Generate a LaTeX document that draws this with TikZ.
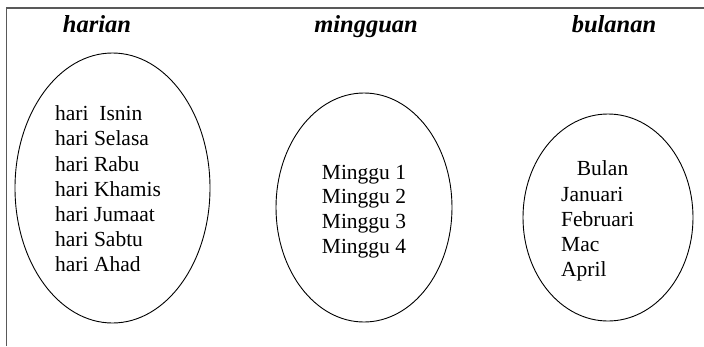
\documentclass[tikz,border=0pt]{standalone}
\usepackage{fontspec}
\setmainfont{Liberation Serif}
\usepackage{tikz}

\tikzset{
  tajuk/.style={anchor=base, inner sep=0pt, font=\fontsize{24.5}{28}\selectfont\bfseries\itshape},
  isi/.style={anchor=base west, inner sep=0pt, font=\fontsize{21.5}{25}\selectfont},
  bingkai/.style={draw=black!65, line width=1.5pt},
  bulatan/.style={draw=black, line width=0.9pt}
}

\begin{document}
\begin{tikzpicture}[x=1pt,y=-1pt]
\useasboundingbox (0,0) rectangle (704,346);

\draw[bingkai] (6.5,346) -- (6.5,8) -- (704,8) ;

\draw[bulatan] (112.5,188) ellipse (97.5 and 135) ;
\node[tajuk] (harian) at (97,32) {harian} ;
\node[isi] (isnin) at (55,120.7) {hari\ \ Isnin} ;
\node[isi] (selasa) at (55,145.9) {hari Selasa} ;
\node[isi] (rabu) at (55,171.1) {hari Rabu} ;
\node[isi] (khamis) at (55,196.3) {hari Khamis} ;
\node[isi] (jumaat) at (55,221.5) {hari Jumaat} ;
\node[isi] (sabtu) at (55,246.7) {hari Sabtu} ;
\node[isi] (ahad) at (55,271.9) {hari Ahad} ;

\draw[bulatan] (364,207.5) ellipse (88 and 114.5) ;
\node[tajuk] (mingguan) at (366,32) {mingguan} ;
\node[isi] (minggu1) at (321.7,179) {Minggu 1} ;
\node[isi] (minggu2) at (321.7,203.7) {Minggu 2} ;
\node[isi] (minggu3) at (321.7,228.3) {Minggu 3} ;
\node[isi] (minggu4) at (321.7,253) {Minggu 4} ;

\draw[bulatan] (608,217.5) ellipse (85 and 103.5) ;
\node[tajuk] (bulanan) at (614,32) {bulanan} ;
\node[isi] (bulan) at (576.7,175.7) {Bulan} ;
\node[isi] (januari) at (561,201) {Januari} ;
\node[isi] (februari) at (561,226.2) {Februari} ;
\node[isi] (mac) at (561,251.5) {Mac} ;
\node[isi] (april) at (561,276.7) {April} ;
\end{tikzpicture}
\end{document}
